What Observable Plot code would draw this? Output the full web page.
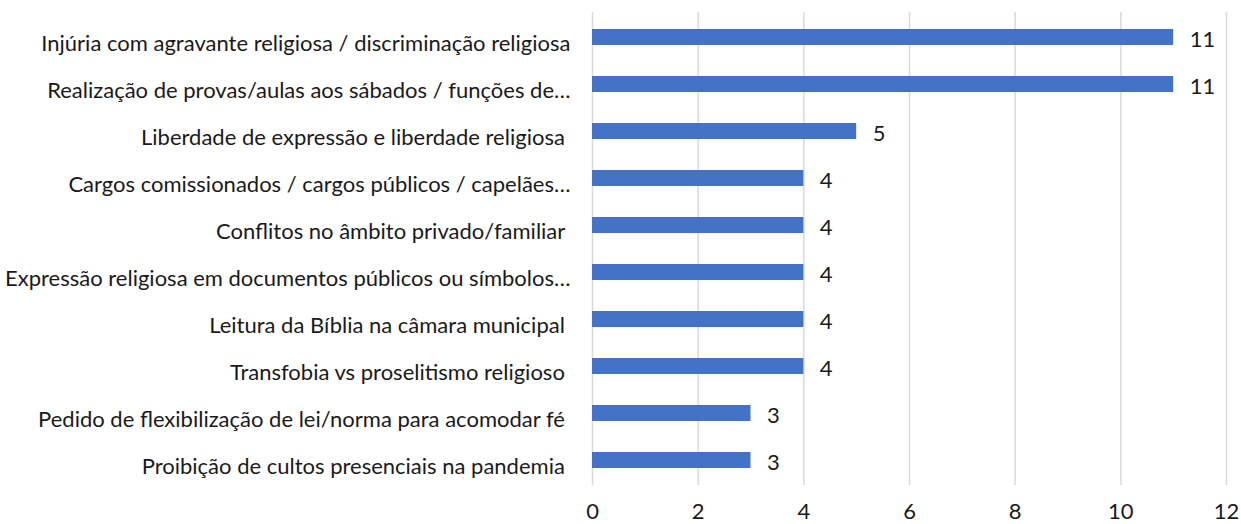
<!DOCTYPE html>
<html>
<head>
<meta charset="utf-8">
<script src="https://cdn.jsdelivr.net/npm/d3@7"></script>
<script src="https://cdn.jsdelivr.net/npm/@observablehq/plot@0.6"></script>
<style>
  html, body { margin: 0; padding: 0; background: #fff; }
  #chart svg { display: block; }
</style>
</head>
<body>
<div id="chart"></div>
<script>
const categories = [
  "Injúria com agravante religiosa / discriminação religiosa",
  "Realização de provas/aulas aos sábados / funções de…",
  "Liberdade de expressão e liberdade religiosa ",
  "Cargos comissionados / cargos públicos / capelães…",
  "Conflitos no âmbito privado/familiar ",
  "Expressão religiosa em documentos públicos ou símbolos…",
  "Leitura da Bíblia na câmara municipal ",
  "Transfobia vs proselitismo religioso ",
  "Pedido de flexibilização de lei/norma para acomodar fé ",
  "Proibição de cultos presenciais na pandemia "
];
const values = [11, 11, 5, 4, 4, 4, 4, 4, 3, 3];
const xTicks = [0, 2, 4, 6, 8, 10, 12];

const data = categories.map((c, i) => ({category: c, value: values[i]}));

const chart = Plot.plot({
  width: 1241,
  height: 524,
  marginLeft: 592,
  marginRight: 15,
  marginTop: 12,
  marginBottom: 39,
  style: {fontFamily: "Lato, 'Open Sans', sans-serif", fontSize: "22px", color: "#1a1a1a"},
  x: {domain: [0, 12], ticks: xTicks, tickSize: 0, tickPadding: 18, label: null},
  y: {domain: categories, paddingInner: 0.65, paddingOuter: 0.33, tickSize: 0, label: null, axis: null},
  marks: [
    Plot.gridX(xTicks, {stroke: "#d9d9d9", strokeOpacity: 1, strokeWidth: 1.5}),
    Plot.axisY({tickSize: 0, tickPadding: 22, dy: 6, label: null, fill: "#1a1a1a"}),
    Plot.barX(data, {x: "value", y: "category", fill: "#4472C4"}),
    Plot.text(data, {x: "value", y: "category", text: d => String(d.value), dx: 16, dy: 2, textAnchor: "start", fill: "#1a1a1a", fontSize: 22})
  ]
});
document.getElementById("chart").appendChild(chart);
</script>
</body>
</html>
